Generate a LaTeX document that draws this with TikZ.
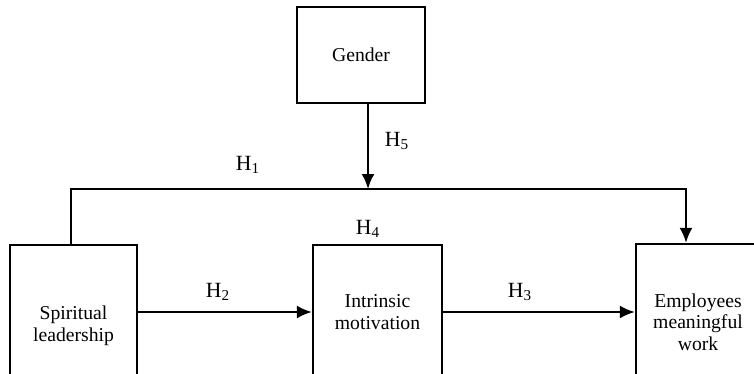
\documentclass[tikz,border=0pt]{standalone}
\usepackage{fontspec}
\setmainfont{Liberation Serif}
\usetikzlibrary{arrows.meta}

\newcommand{\pxscl}{0.6}
\newcommand{\linew}{1.35pt}
\newcommand{\pxl}[1]{#1*\pxscl pt}
\newcommand{\bx}{\node[draw, line width=\linew, align=center, inner sep=0pt, font=\fontsize{11.8}{13}\selectfont]}
\newcommand{\hn}{\node[inner sep=1pt, font=\fontsize{13}{14}\selectfont]}
\tikzset{arr/.style={line width=\linew, -{Latex[length=9pt, width=7.8pt]}}}

\begin{document}
\begin{tikzpicture}[x=\pxscl pt, y=-\pxscl pt]
            \useasboundingbox (0,0) rectangle (754,373);
            \clip (0,0) rectangle (754,373);

            \bx[minimum width=\pxl{128}, minimum height=\pxl{96}] (gender) at (361,55) {Gender};
            \bx[minimum width=\pxl{127}, minimum height=\pxl{162}] (spirit) at (73.5,326) {Spiritual\\leadership};
            \bx[minimum width=\pxl{129}, minimum height=\pxl{134}] (intr) at (377.5,312) {Intrinsic\\motivation};
            \bx[minimum width=\pxl{124}, minimum height=\pxl{156}] (emp) at (698,322) {Employees\\meaningful\\work};

            \coordinate (h1l) at (71,189);
            \coordinate (h1m) at (368,189);
            \coordinate (h1r) at (686,189);

            \draw[arr]
                (spirit.north -| h1l) -- (h1l) -- (h1r) -- (emp.north -| h1r);
            \draw[arr]
                (gender.south -| h1m) -- (h1m);
            \draw[arr]
                (spirit.east |- intr.west) -- (intr.west);
            \draw[arr]
                (intr.east) -- (emp.west |- intr.east);

            \hn (lh1) at (248,165) {H\textsubscript{1}};
            \hn (lh2) at (218,292) {H\textsubscript{2}};
            \hn (lh3) at (520,292) {H\textsubscript{3}};
            \hn (lh4) at (368,229) {H\textsubscript{4}};
            \hn (lh5) at (397,141) {H\textsubscript{5}};
        \end{tikzpicture}
\end{document}
